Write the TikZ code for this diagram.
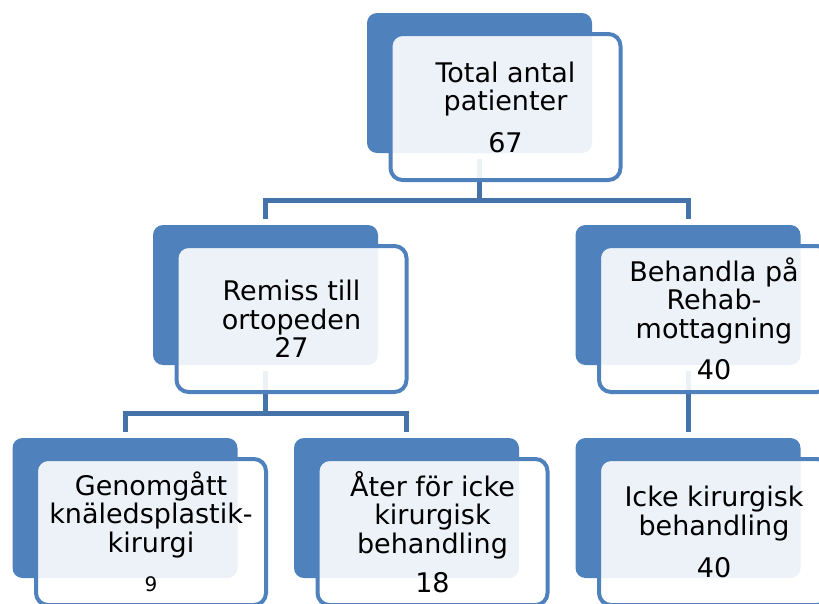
\documentclass[tikz,border=0pt]{standalone}
\usepackage{fontspec}
\setmainfont{DejaVu Sans}
\definecolor{boxblue}{HTML}{4F81BD}
\definecolor{linkblue}{HTML}{4672AA}
\tikzset{
 back/.style={fill=boxblue,rounded corners=10pt,minimum width=225pt,minimum height=140pt,inner sep=0pt},
 front/.style={draw=boxblue,line width=4pt,fill=white,fill opacity=0.9,text opacity=1,rounded corners=12pt,
   minimum width=230pt,minimum height=146pt,inner sep=0pt,align=center,
   font=\fontsize{27}{28.5}\selectfont,xshift=26pt,yshift=-24pt},
 conn/.style={draw=linkblue,line width=5pt,shorten <=6pt,shorten >=6pt}
}
\begin{document}
\begin{tikzpicture}[x=1pt,y=-1pt]
 \useasboundingbox (0,0) rectangle (819,603);
 \clip (0,0) rectangle (819,603);
 % back boxes
 \node[back] (tot) at (479.5,83) {};
 \node[back] (rem) at (265.5,295) {};
 \node[back] (reh) at (688,295) {};
 \node[back] (gen) at (125,508) {};
 \node[back] (ater) at (406.5,508) {};
 \node[back] (icke) at (688,508) {};
 % connectors
 \draw[conn] (tot.south) -- ++(0,47) -| (rem.north);
 \draw[conn] (tot.south) -- ++(0,47) -| (reh.north);
 \draw[conn] (rem.south) -- ++(0,48) -| (gen.north);
 \draw[conn] (rem.south) -- ++(0,48) -| (ater.north);
 \draw[conn] (reh.south) -- (icke.north);
 % front boxes
 \node[front] (totF) at (tot) {Total antal\\patienter\\[13pt]67};
 \node[front] (remF) at (rem) {Remiss till\\ortopeden\\27};
 \node[front] (rehF) at (reh) {Behandla på\\Rehab-\\mottagning\\[13pt]40};
 \node[front] (genF) at (gen) {Genomgått\\knäledsplastik-\\kirurgi\\[11pt]{\fontsize{20}{24}\selectfont 9}};
 \node[front] (aterF) at (ater) {Åter för icke\\kirurgisk\\behandling\\[11pt]18};
 \node[front] (ickeF) at (icke) {Icke kirurgisk\\behandling\\[14pt]40};
\end{tikzpicture}
\end{document}
